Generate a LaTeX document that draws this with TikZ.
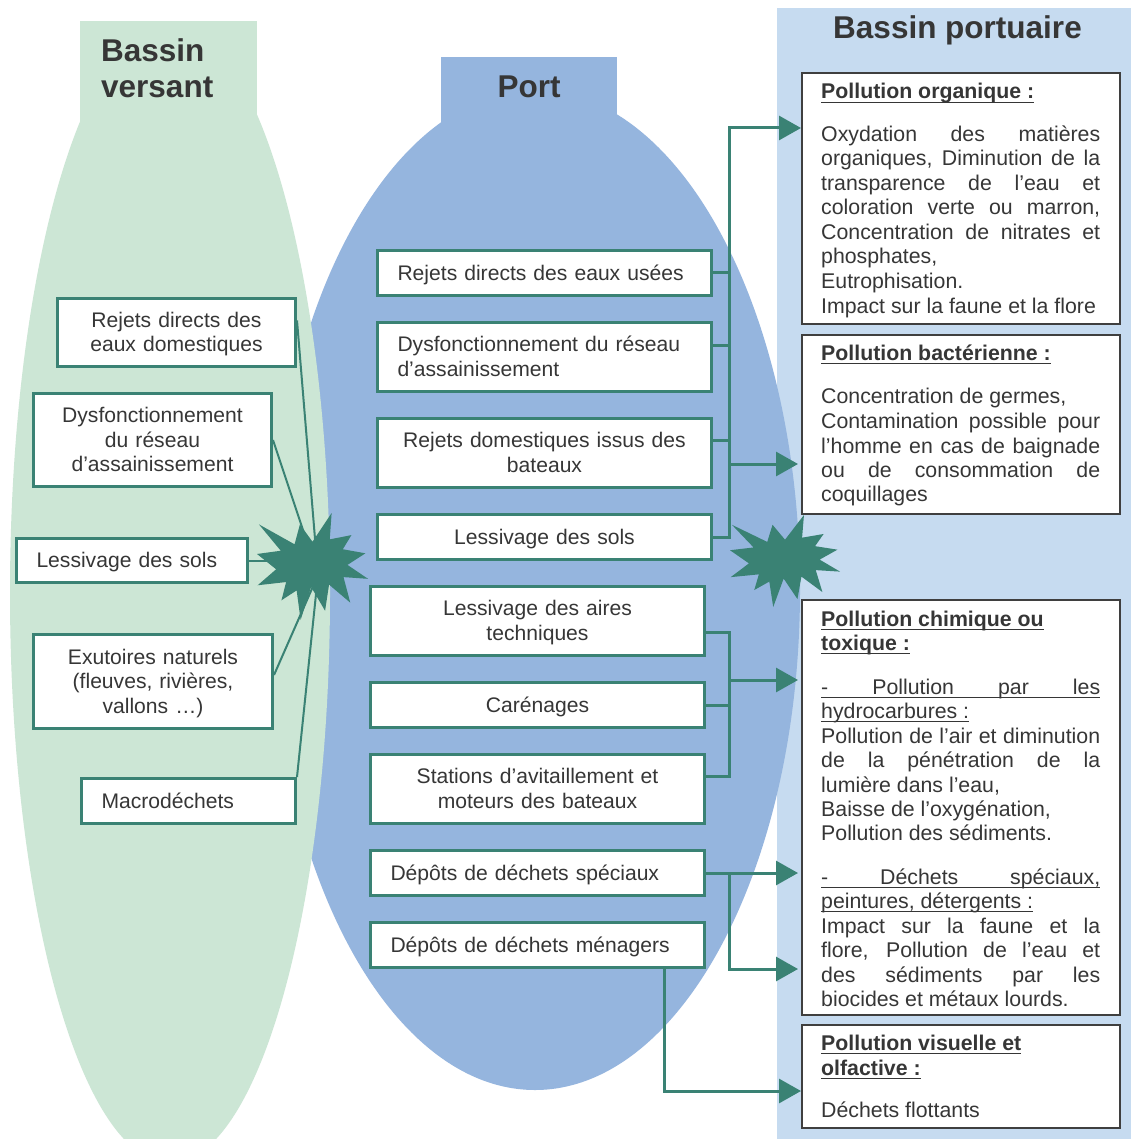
\documentclass[tikz,border=0pt]{standalone}
\usepackage{fontspec}
\setmainfont{Liberation Sans}
\usetikzlibrary{arrows.meta}
\definecolor{vgreen}{HTML}{CCE6D5}
\definecolor{pblue}{HTML}{95B5DE}
\definecolor{lblue}{HTML}{C6DBF0}
\definecolor{tealc}{HTML}{3A8274}
\definecolor{dgray}{HTML}{3F3F3F}
\definecolor{txt}{HTML}{363636}
\pgfdeclarelayer{back}
\pgfdeclarelayer{mid}
\pgfsetlayers{back,mid,main}
\newcommand\myul[1]{\setbox0\hbox{#1}\rlap{\rule[-4.3pt]{\wd0}{1.6pt}}\box0}
\newcommand\jline[1]{\makebox[279pt][s]{#1}}
\newcommand\drawboom[4]{\begin{scope}[shift={(#1,#2)},xscale=#3/216,yscale=#4/216]
\fill[boom] (108,58) -- (145.22,0) -- (141.55,53.25) -- (183.8,44.57) -- (167.02,73.15) -- (210.97,81.37) -- (176.07,104.75) -- (216,132.9) -- (168.37,129.42) -- (181.45,180.95) -- (140.2,144.57) -- (132.47,197.37) -- (105.32,149.35) -- (84.85,216) -- (77.15,156.27) -- (47.62,176.17) -- (56.67,139.37) -- (1.35,145.87) -- (37.22,113.6) -- (0,82.72) -- (46.27,76.17) -- (3.7,22.95) -- (73.12,63.2) -- (83.52,22.95) -- cycle;
\end{scope}}
\tikzset{
 hd/.style={font=\fontsize{31.5}{36}\selectfont\bfseries, text=txt, inner sep=0pt},
 rt/.style={font=\fontsize{21.3}{24.5}\selectfont, text=txt, inner sep=0pt, anchor=base west},
 gbox/.style={draw=tealc, line width=3pt, fill=white, font=\fontsize{21.1}{24.5}\selectfont, text=txt, inner xsep=20pt, inner ysep=0pt,
   execute at begin node={\rule{0pt}{20.5pt}}, execute at end node={\rule[-6.5pt]{0pt}{0pt}}},
 rbox/.style={draw=dgray, line width=2pt, fill=white, inner sep=0pt},
 conn/.style={draw=tealc, line width=3pt},
 arr/.style={conn, -{Triangle[length=22pt,width=24pt]}},
 feed/.style={draw=tealc, line width=2pt},
 boom/.style={fill=tealc},
}
\begin{document}
\begin{tikzpicture}[x=1pt,y=-1pt]
\useasboundingbox (0,0) rectangle (1131,1139);
\begin{pgfonlayer}{back}
\fill[white] (0,0) rectangle (1131,1139);
\fill[lblue] (777,8) rectangle (1131,1139);
\fill[pblue] (535,590) ellipse [x radius=265pt, y radius=500pt];
\fill[pblue] (441,57) rectangle (617,140);
\fill[vgreen] (170,593) ellipse [x radius=160pt, y radius=570pt];
\fill[vgreen] (80,21) rectangle (257,130);
\end{pgfonlayer}

% titles
\node[hd, anchor=base west] (bv1) at (101,62) {Bassin};
\node[hd, anchor=base west] (bv2) at (101,98) {versant};
\node[hd, anchor=base] (port) at (529,98) {Port};
\node[hd, anchor=base] (bp) at (957.5,39) {Bassin portuaire};

% left boxes
\node[gbox, text width=198pt, minimum height=68pt, align=center] (L1) at (176.5,332.5) {Rejets directs des\\eaux domestiques};
\node[gbox, text width=198pt, minimum height=93pt, align=center] (L2) at (152.5,440) {Dysfonctionnement\\du réseau\\d’assainissement};
\node[gbox, text width=191pt, minimum height=44pt, align=left] (L3) at (132,560.5) {Lessivage des sols};
\node[gbox, text width=199pt, minimum height=94pt, align=center] (L4) at (153,681.5) {Exutoires naturels\\(fleuves, rivières,\\vallons …)};
\node[gbox, text width=174pt, minimum height=45pt, align=left] (L5) at (188.5,801) {Macrodéchets};

% middle boxes
\node[gbox, text width=294pt, minimum height=45pt, align=left] (M1) at (544.5,273) {Rejets directs des eaux usées};
\node[gbox, text width=294pt, minimum height=69pt, align=left] (M2) at (544.5,357) {Dysfonctionnement du réseau\\d’assainissement};
\node[gbox, text width=294pt, minimum height=69pt, align=center] (M3) at (544.5,453) {Rejets domestiques issus des\\bateaux};
\node[gbox, text width=294pt, minimum height=45pt, align=center] (M4) at (544.5,537) {Lessivage des sols};
\node[gbox, text width=294pt, minimum height=69pt, align=center] (M5) at (537.5,621) {Lessivage des aires\\techniques};
\node[gbox, text width=294pt, minimum height=45pt, align=center] (M6) at (537.5,705) {Carénages};
\node[gbox, text width=294pt, minimum height=69pt, align=center] (M7) at (537.5,789) {Stations d’avitaillement et\\moteurs des bateaux};
\node[gbox, text width=294pt, minimum height=45pt, align=left] (M8) at (537.5,873) {Dépôts de déchets spéciaux};
\node[gbox, text width=294pt, minimum height=45pt, align=left] (M9) at (537.5,945) {Dépôts de déchets ménagers};

% right boxes
\node[rbox, minimum width=318pt, minimum height=251pt] (R1) at (961,198.5) {};
\node[rbox, minimum width=318pt, minimum height=179pt] (R2) at (961,424.5) {};
\node[rbox, minimum width=318pt, minimum height=415pt] (R3) at (961,807.5) {};
\node[rbox, minimum width=318pt, minimum height=103pt] (R4) at (961,1076.5) {};

% R1 text
\node[rt] (r1a) at (821,99) {\myul{\textbf{Pollution organique :}}};
\node[rt] (r1b) at (821,142) {\jline{Oxydation des matières}};
\node[rt] (r1c) at (821,166) {\jline{organiques, Diminution de la}};
\node[rt] (r1d) at (821,191) {\jline{transparence de l’eau et}};
\node[rt] (r1e) at (821,215) {\jline{coloration verte ou marron,}};
\node[rt] (r1f) at (821,240) {\jline{Concentration de nitrates et}};
\node[rt] (r1g) at (821,264) {phosphates,};
\node[rt] (r1h) at (821,289) {Eutrophisation.};
\node[rt] (r1i) at (821,313) {Impact sur la faune et la flore};
% R2 text
\node[rt] (r2a) at (821,360) {\myul{\textbf{Pollution bactérienne :}}};
\node[rt] (r2b) at (821,403) {Concentration de germes,};
\node[rt] (r2c) at (821,428) {\jline{Contamination possible pour}};
\node[rt] (r2d) at (821,453) {\jline{l’homme en cas de baignade}};
\node[rt] (r2e) at (821,477) {\jline{ou de consommation de}};
\node[rt] (r2f) at (821,501) {coquillages};
% R3 text
\node[rt] (r3a) at (821,626) {\myul{\textbf{Pollution chimique ou}}};
\node[rt] (r3b) at (821,650) {\myul{\textbf{toxique :}}};
\node[rt] (r3c) at (821,694) {\myul{\jline{- Pollution par les}}};
\node[rt] (r3d) at (821,718) {\myul{hydrocarbures :}};
\node[rt] (r3e) at (821,743) {\jline{Pollution de l’air et diminution}};
\node[rt] (r3f) at (821,767) {\jline{de la pénétration de la}};
\node[rt] (r3g) at (821,792) {lumière dans l’eau,};
\node[rt] (r3h) at (821,816) {Baisse de l’oxygénation,};
\node[rt] (r3i) at (821,840) {Pollution des sédiments.};
\node[rt] (r3j) at (821,884) {\myul{\jline{- Déchets spéciaux,}}};
\node[rt] (r3k) at (821,908) {\myul{peintures, détergents :}};
\node[rt] (r3l) at (821,933) {\jline{Impact sur la faune et la}};
\node[rt] (r3m) at (821,957) {\jline{flore, Pollution de l’eau et}};
\node[rt] (r3n) at (821,982) {\jline{des sédiments par les}};
\node[rt] (r3o) at (821,1006) {biocides et métaux lourds.};
% R4 text
\node[rt] (r4a) at (821,1050) {\myul{\textbf{Pollution visuelle et}}};
\node[rt] (r4b) at (821,1075) {\myul{\textbf{olfactive :}}};
\node[rt] (r4c) at (821,1117) {Déchets flottants};

\begin{pgfonlayer}{mid}
% left feeders
\coordinate (SL) at (318,575);
\draw[feed] ([yshift=12pt]L1.east) -- (SL);
\draw[feed] (L2.east) -- (SL);
\draw[feed] (L3.east) -- (L3.east -| SL);
\draw[feed] ([yshift=6.5pt]L4.east) -- (SL);
\draw[feed] (L5.north east) -- (SL);
% bus A
\coordinate (BA) at (729,128);
\coordinate (BA2) at (729,464);
\draw[conn] (M1.east) -- (M1.east -| BA);
\draw[conn] ([yshift=12pt]M2.east) -- ([yshift=12pt]M2.east -| BA);
\draw[conn] ([yshift=13pt]M3.east) -- ([yshift=13pt]M3.east -| BA);
\draw[arr] (M4.east) -| (BA) -- (BA -| R1.west);
\draw[arr] (BA2) -- ([xshift=-3pt]BA2 -| R2.west);
% bus B
\coordinate (BB1) at (729,632);
\coordinate (BB2) at (729,776);
\coordinate (BB3) at (729,680);
\draw[conn] ([yshift=-11pt]M5.east) -- (BB1) -- (BB2) -- (BB2 -| M7.east);
\draw[conn] (M6.east) -- (M6.east -| BB1);
\draw[arr] (BB3) -- ([xshift=-3pt]BB3 -| R3.west);
% bus C
\coordinate (BC1) at (729,873);
\coordinate (BC2) at (729,969);
\draw[arr] (M8.east) -- ([xshift=-3pt]M8.east -| R3.west);
\draw[arr] (BC1) -- (BC2) -- ([xshift=-3pt]BC2 -| R3.west);
% bus D
\coordinate (BD1) at (664,1091);
\draw[arr] (M9.south -| BD1) -- (BD1) -- (BD1 -| R4.west);
% explosions
\drawboom{257}{513}{111}{107}
\drawboom{730}{515}{110}{92}
\end{pgfonlayer}
\end{tikzpicture}
\end{document}
